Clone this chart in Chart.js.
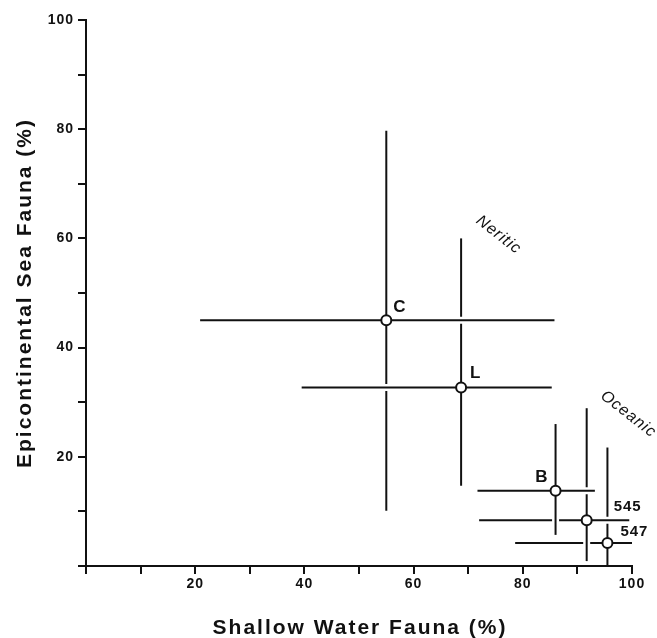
<!DOCTYPE html>
<html><head><meta charset="utf-8">
<script src="https://cdn.jsdelivr.net/npm/chart.js@4"></script>
<style>html,body{margin:0;padding:0;background:#fff}canvas{display:block}</style>
</head><body>
<canvas id="c" width="657" height="638"></canvas>
<script>
// ---- data ----
const sites = ["C", "L", "B", "545", "547"];
const shallowWater = [55.0, 68.7, 86.0, 91.7, 95.5];       // x (%)
const epicontinental = [45.0, 32.7, 13.8, 8.4, 4.2];      // y (%)
const shallowLow = [20.9, 39.5, 71.7, 72.0, 78.6];
const shallowHigh = [85.8, 85.3, 93.2, 99.5, 100.0];
const epiLow = [10.1, 14.7, 5.7, 0.9, 0.0];
const epiHigh = [79.7, 60.0, 26.0, 28.9, 21.7];
const xTickLabels = [20, 40, 60, 80, 100];
const yTickLabels = [20, 40, 60, 80, 100];
const regionNames = ["Neritic", "Oceanic"];
const xTitle = "Shallow Water Fauna (%)";
const yTitle = "Epicontinental Sea Fauna (%)";

// ---- styling / annotation placement ----
const labelStyle = [
  {dx: 7, dy: -8, align: 'left', font: 'bold 17px "Liberation Sans"', ls: '0px'},
  {dx: 9, dy: -9, align: 'left', font: 'bold 17px "Liberation Sans"', ls: '0px'},
  {dx: -8, dy: -9, align: 'right', font: 'bold 17px "Liberation Sans"', ls: '0px'},
  {dx: 27, dy: -9, align: 'left', font: 'bold 15px "Liberation Sans"', ls: '1px'},
  {dx: 13, dy: -7, align: 'left', font: 'bold 15px "Liberation Sans"', ls: '1px'}
];
const regionPlace = [{x: 71.8, y: 63.6}, {x: 94.6, y: 31.5}];
const drawOrder = [[1,'v'],[0,'h'],[0,'v'],[1,'h'],[4,'v'],[4,'h'],[3,'h'],[3,'v'],[2,'h'],[2,'v']];

const overlay = {
  id: 'overlay',
  beforeDraw(chart) { chart.ctx.letterSpacing = '1px'; },
  beforeDatasetsDraw(chart) {
    const {ctx, scales: {x, y}} = chart;
    ctx.save();
    ctx.letterSpacing = '0px';
    ctx.lineCap = 'butt';
    for (const [i, dir] of drawOrder) {
      let x1, y1, x2, y2;
      if (dir === 'h') {
        x1 = x.getPixelForValue(shallowLow[i]); x2 = x.getPixelForValue(shallowHigh[i]);
        y1 = y2 = y.getPixelForValue(epicontinental[i]);
      } else {
        x1 = x2 = x.getPixelForValue(shallowWater[i]);
        y1 = y.getPixelForValue(epiHigh[i]); y2 = y.getPixelForValue(epiLow[i]);
      }
      const len = Math.hypot(x2 - x1, y2 - y1), ux = (x2 - x1) / len, uy = (y2 - y1) / len, s = 5;
      ctx.strokeStyle = '#fff'; ctx.lineWidth = 7;
      ctx.beginPath(); ctx.moveTo(x1 + ux * s, y1 + uy * s); ctx.lineTo(x2 - ux * s, y2 - uy * s); ctx.stroke();
      ctx.strokeStyle = '#111'; ctx.lineWidth = 2;
      ctx.beginPath(); ctx.moveTo(x1, y1); ctx.lineTo(x2, y2); ctx.stroke();
    }
    ctx.restore();
  },
  afterDatasetsDraw(chart) {
    const {ctx, chartArea, scales: {x, y}} = chart;
    ctx.save();
    ctx.fillStyle = '#111';
    ctx.textBaseline = 'alphabetic';
    sites.forEach((name, i) => {
      const st = labelStyle[i];
      ctx.font = st.font; ctx.letterSpacing = st.ls; ctx.textAlign = st.align;
      ctx.fillText(name, x.getPixelForValue(shallowWater[i]) + st.dx, y.getPixelForValue(epicontinental[i]) + st.dy);
    });
    // region annotations
    ctx.font = 'italic 16px "Liberation Sans"';
    ctx.letterSpacing = '1px';
    ctx.textAlign = 'left'; ctx.textBaseline = 'middle';
    regionNames.forEach((t, i) => {
      ctx.save();
      ctx.translate(x.getPixelForValue(regionPlace[i].x), y.getPixelForValue(regionPlace[i].y));
      ctx.rotate(38 * Math.PI / 180);
      ctx.fillText(t, 0, 0);
      ctx.restore();
    });
    // axis titles
    ctx.font = 'bold 21px "Liberation Sans"';
    ctx.letterSpacing = '2px';
    ctx.textAlign = 'center'; ctx.textBaseline = 'middle';
    ctx.fillText(xTitle, (chartArea.left + chartArea.right) / 2 + 1, 628);
    ctx.save();
    ctx.translate(25, (chartArea.top + chartArea.bottom) / 2);
    ctx.rotate(-Math.PI / 2);
    ctx.fillText(yTitle, 0, 0);
    ctx.restore();
    ctx.restore();
  },
  afterDraw(chart) { chart.ctx.letterSpacing = '0px'; }
};

Chart.defaults.font.family = '"Liberation Sans", Arial, sans-serif';
Chart.defaults.color = '#111';

new Chart(document.getElementById('c'), {
  type: 'scatter',
  data: {
    labels: sites,
    datasets: [{
      data: sites.map((s, i) => ({x: shallowWater[i], y: epicontinental[i]})),
      pointRadius: 5,
      pointBorderWidth: 2,
      pointBackgroundColor: '#fff',
      pointBorderColor: '#111',
      showLine: false
    }]
  },
  options: {
    responsive: false,
    devicePixelRatio: 1,
    animation: false,
    layout: {padding: {left: 0, right: 25, top: 20, bottom: 0}},
    plugins: {legend: {display: false}, tooltip: {enabled: false}},
    scales: {
      x: {
        type: 'linear', min: 0, max: 100,
        afterFit: s => { s.height = 72; },
        ticks: {
          stepSize: 10, autoSkip: false, maxRotation: 0, padding: 2,
          font: {size: 14, weight: 'bold'}, color: '#111',
          callback: v => xTickLabels.includes(v) ? String(v) : ''
        },
        grid: {display: true, drawOnChartArea: false, drawTicks: true, tickLength: 8, color: '#111', lineWidth: 2},
        border: {display: true, color: '#111', width: 2}
      },
      y: {
        type: 'linear', min: 0, max: 100,
        afterFit: s => { s.width = 86; },
        ticks: {
          stepSize: 10, autoSkip: false, padding: 4,
          font: {size: 14, weight: 'bold'}, color: '#111',
          callback: v => yTickLabels.includes(v) ? String(v) : ''
        },
        grid: {display: true, drawOnChartArea: false, drawTicks: true, tickLength: 8, color: '#111', lineWidth: 2},
        border: {display: true, color: '#111', width: 2}
      }
    }
  },
  plugins: [overlay]
});
</script>
</body></html>
